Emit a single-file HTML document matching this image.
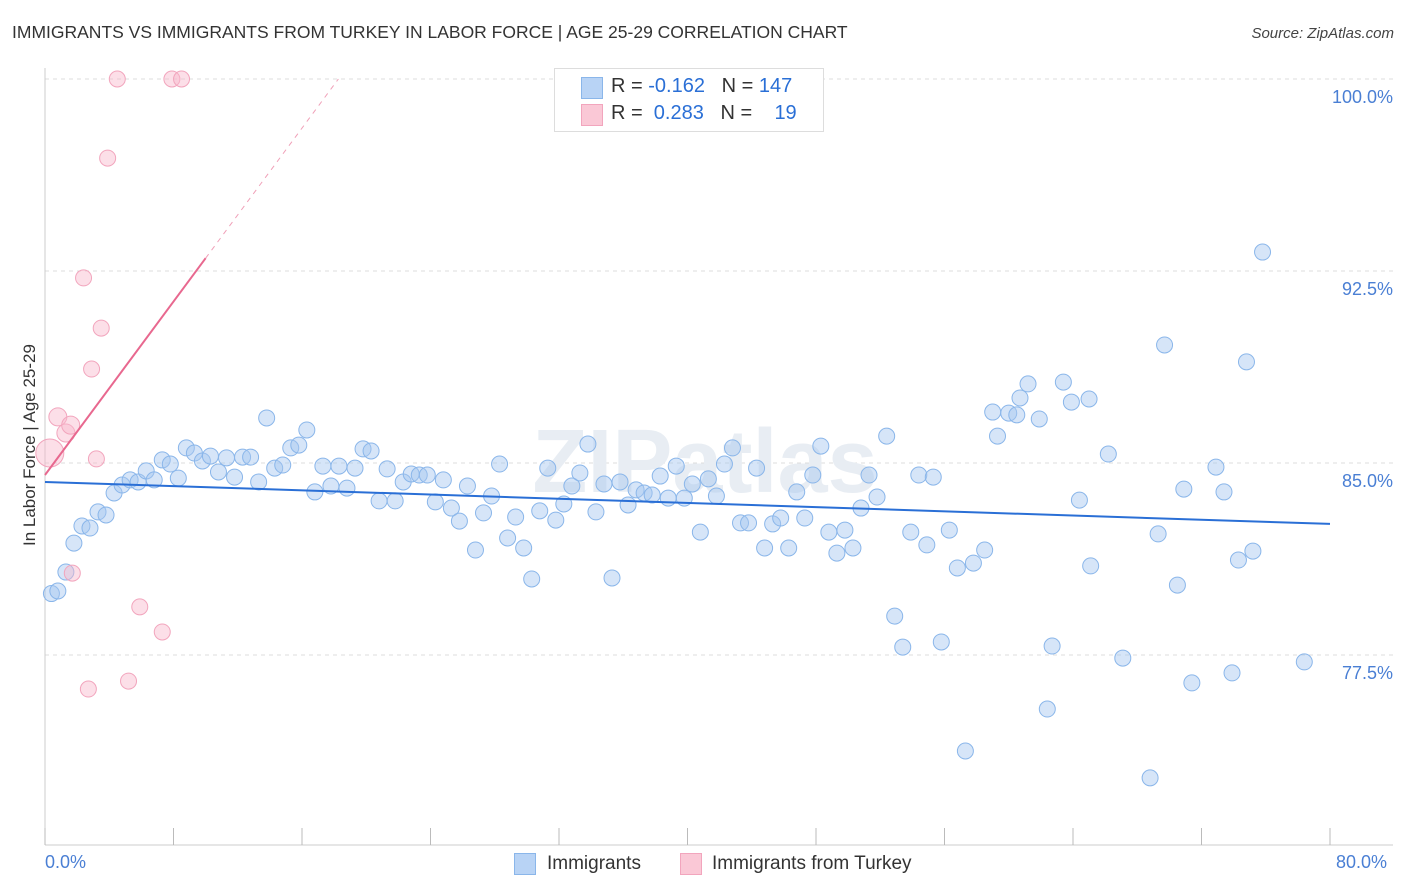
<!DOCTYPE html>
<html><head><meta charset="utf-8"><style>
body{margin:0;background:#fff;font-family:"Liberation Sans",sans-serif}
#wrap{position:relative;width:1406px;height:892px;overflow:hidden}
.t{position:absolute;white-space:nowrap}
</style></head><body>
<div id="wrap">
<div class="t" style="left:12px;top:22px;font-size:17.5px;color:#333">IMMIGRANTS VS IMMIGRANTS FROM TURKEY IN LABOR FORCE | AGE 25-29 CORRELATION CHART</div>
<div class="t" style="right:12px;top:25px;font-size:15px;color:#444;font-style:italic">Source: ZipAtlas.com</div>
<svg id="svg" width="1406" height="892" style="position:absolute;left:0;top:0"></svg>
</div>
<script>
const blueX=[0.4,0.8,1.3,1.8,2.3,2.8,3.3,3.8,4.3,4.8,5.3,5.8,6.3,6.8,7.3,7.8,8.3,8.8,9.3,9.8,10.3,10.8,11.3,11.8,12.3,12.8,13.3,13.8,14.3,14.8,15.3,15.8,16.3,16.8,17.3,17.8,18.3,18.8,19.3,19.8,20.3,20.8,21.3,21.8,22.3,22.8,23.3,23.8,24.3,24.8,25.3,25.8,26.3,26.8,27.3,27.8,28.3,28.8,29.3,29.8,30.3,30.8,31.3,31.8,32.3,32.8,33.3,33.8,34.3,34.8,35.3,35.8,36.3,36.8,37.3,37.8,38.3,38.8,39.3,39.8,40.3,40.8,41.3,41.8,42.3,42.8,43.3,43.8,44.3,44.8,45.3,45.8,46.3,46.8,47.3,47.8,48.3,48.8,49.3,49.8,50.3,50.8,51.3,51.8,52.4,52.9,53.4,53.9,54.4,54.9,55.3,55.8,56.3,56.8,57.3,57.8,58.5,59.0,59.3,60.0,60.5,60.7,61.2,61.9,62.7,62.4,63.4,63.9,64.4,65.1,65.0,66.2,67.1,68.8,69.3,69.7,70.5,70.9,71.4,72.9,73.4,73.9,74.3,74.8,75.2,75.8,78.4];
const blueY=[79.9,80.0,80.74,81.87,82.54,82.46,83.09,82.97,83.83,84.14,84.34,84.26,84.69,84.34,85.12,84.96,84.41,85.59,85.39,85.08,85.27,84.65,85.2,84.45,85.23,85.23,84.26,86.76,84.8,84.92,85.59,85.7,86.29,83.87,84.88,84.1,84.88,84.02,84.8,85.55,85.47,83.52,84.77,83.52,84.26,84.57,84.53,84.53,83.48,84.34,83.24,82.73,84.1,81.6,83.05,83.71,84.96,82.07,82.89,81.68,80.47,83.13,84.8,82.77,83.4,84.1,84.61,85.74,83.09,84.18,80.51,84.26,83.36,83.95,83.83,83.75,84.49,83.63,84.88,83.63,84.18,82.3,84.38,83.71,84.96,85.59,82.66,82.66,84.8,81.68,82.62,82.85,81.68,83.87,82.85,84.53,85.66,82.3,81.48,82.38,81.68,83.24,84.53,83.67,86.05,79.02,77.81,82.3,84.53,81.8,84.45,78.01,82.38,80.9,73.75,81.09,81.6,86.99,86.05,86.95,86.88,87.54,88.09,86.72,77.85,75.39,88.16,87.38,83.55,80.98,87.5,85.35,77.38,72.7,82.23,89.61,80.23,83.98,76.41,84.84,83.87,76.8,81.21,88.95,81.56,93.24,77.23];
const pinkX=[0.3,0.8,1.3,1.6,1.7,2.7,2.9,3.2,3.5,2.4,3.9,4.5,5.2,5.9,7.3,7.9,8.5];
const pinkY=[85.39,86.8,86.17,86.48,80.7,76.17,88.67,85.16,90.27,92.23,96.91,100,76.48,79.38,78.4,100,100];
const pinkR=[14,9,9,9,8,8,8,8,8,8,8,8,8,8,8,8,8];
const yTicks=[100,92.5,85,77.5];
const yTickLabels=["100.0%","92.5%","85.0%","77.5%"];
const blueTrend=[84.26,82.62];
const pinkTrend=[84.53,93.0];

const X=v=>45+v*(1285/80), Y=v=>79+(100-v)*25.6;
const svg=document.getElementById('svg'),NS='http://www.w3.org/2000/svg';
function mk(tag,at,name){const e=document.createElementNS(NS,tag);for(const k in at)e.setAttribute(k,at[k]);


svg.appendChild(e);return e;}
yTicks.forEach((t,i)=>{mk('line',{x1:45,x2:1393,y1:Y(t),y2:Y(t),stroke:'#ddd','stroke-dasharray':'4,4'},'gridline');
const tx=mk('text',{x:1393,y:Y(t)+24,'text-anchor':'end','font-size':18,fill:'#4a7fd4','font-family':'Liberation Sans'},'y-tick-label');tx.textContent=yTickLabels[i];});
mk('line',{x1:45,x2:45,y1:68,y2:845,stroke:'#ccc'},'y-axis');
mk('line',{x1:45,x2:1393,y1:845,y2:845,stroke:'#ccc'},'x-axis');
for(let i=0;i<=10;i++)mk('line',{x1:X(i*8),x2:X(i*8),y1:828,y2:845,stroke:'#bbb'},'x-tick');
const wm=mk('text',{x:705,y:492,'text-anchor':'middle','font-size':90,fill:'#e8edf3','font-family':'Liberation Sans','font-weight':'bold'},'watermark');wm.textContent='ZIPatlas';
blueX.forEach((x,i)=>mk('circle',{cx:X(x),cy:Y(blueY[i]),r:8,fill:'rgba(165,198,240,0.45)',stroke:'#8ab6ea','stroke-width':1},'immigrants-point'));
pinkX.forEach((x,i)=>mk('circle',{cx:X(x),cy:Y(pinkY[i]),r:pinkR[i],fill:'rgba(248,185,205,0.45)',stroke:'#f2a5bd','stroke-width':1},'turkey-point'));
mk('line',{x1:X(0),y1:Y(blueTrend[0]),x2:X(80),y2:Y(blueTrend[1]),stroke:'#2a6fd6','stroke-width':2},'immigrants-trend-line');
const slope=(pinkTrend[1]-pinkTrend[0])/10;
mk('line',{x1:X(0),y1:Y(pinkTrend[0]),x2:X(10),y2:Y(pinkTrend[1]),stroke:'#e8688f','stroke-width':2},'turkey-trend-line');
const xEnd=(100-pinkTrend[0])/slope;
mk('line',{x1:X(10),y1:Y(pinkTrend[1]),x2:X(xEnd),y2:Y(100),stroke:'#f0a0b8','stroke-width':1,'stroke-dasharray':'5,5'},'turkey-trend-extension');
</script>
<div class="t" style="left:45px;top:852px;font-size:18px;color:#4a7fd4">0.0%</div>
<div class="t" style="left:1336px;top:852px;font-size:18px;color:#4a7fd4">80.0%</div>
<div class="t" style="left:-60px;top:446px;font-size:17px;color:#333;transform:rotate(-90deg);width:180px;text-align:center">In Labor Force | Age 25-29</div>
<div style="position:absolute;left:554px;top:68px;width:268px;height:62px;border:1px solid #ddd;background:#fff;font-size:20px;color:#333">
<div style="position:absolute;left:26px;top:8px;width:20px;height:20px;background:#b8d3f5;border:1px solid #8ab6ea"></div>
<div class="t" style="left:56px;top:6px">R = <span style="color:#2a6fd6">-0.162</span>&nbsp;&nbsp;&nbsp;N = <span style="color:#2a6fd6">147</span></div>
<div style="position:absolute;left:26px;top:35px;width:20px;height:20px;background:#fac8d6;border:1px solid #f2a5bd"></div>
<div class="t" style="left:56px;top:33px">R = &nbsp;<span style="color:#2a6fd6">0.283</span>&nbsp;&nbsp;&nbsp;N = &nbsp;&nbsp;&nbsp;<span style="color:#2a6fd6">19</span></div>
</div>
<div style="position:absolute;left:514px;top:853px;font-size:19px;color:#333">
<div style="position:absolute;left:0;top:0;width:20px;height:20px;background:#b8d3f5;border:1px solid #8ab6ea"></div>
<div class="t" style="left:33px;top:0">Immigrants</div>
<div style="position:absolute;left:166px;top:0;width:20px;height:20px;background:#fac8d6;border:1px solid #f2a5bd"></div>
<div class="t" style="left:198px;top:0">Immigrants from Turkey</div>
</div>
</body></html>
